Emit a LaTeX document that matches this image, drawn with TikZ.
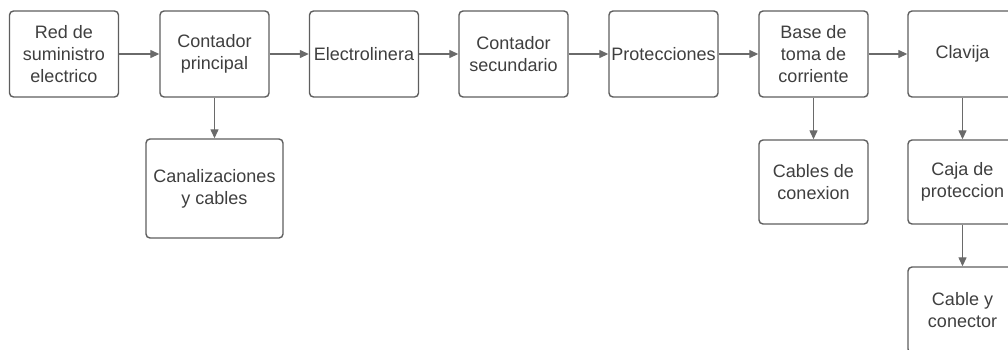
\documentclass[tikz,border=0pt]{standalone}
\usepackage{fontspec}
\setmainfont{Liberation Sans}
\usetikzlibrary{arrows.meta}
\definecolor{boxline}{HTML}{5E5E5E}
\definecolor{boxtext}{HTML}{3F3F3F}
\definecolor{arrline}{HTML}{6A6A6A}
\tikzset{
  blockbox/.style={draw=boxline,line width=1.4pt,rounded corners=4pt,fill=white,text=boxtext,align=center,inner sep=0pt,minimum width=109pt,minimum height=86pt,font=\fontsize{18}{22}\selectfont},
  blockboxwide/.style={blockbox,minimum width=137pt,minimum height=99pt},
  blockboxlow/.style={blockbox,minimum height=84pt},
  flowarr/.style={-{Triangle[length=9pt,width=8pt]},line width=1.3pt,draw=arrline}
}

\begin{document}
\begin{tikzpicture}[x=1pt,y=-1pt]
  \clip (0,0) rectangle (1008,349);
  % main chain
  \node[blockbox] (red) at (64,54) {Red de\\suministro\\electrico};
  \node[blockbox] (cprin) at (214.5,54) {Contador\\principal};
  \node[blockbox] (elec) at (364,54) {Electrolinera};
  \node[blockbox] (csec) at (513.5,54) {Contador\\secundario};
  \node[blockbox] (prot) at (663.5,54) {Protecciones};
  \node[blockbox] (base) at (813.5,54) {Base de\\toma de\\corriente};
  \node[blockbox] (clav) at (962.5,54) {Clavija};
  % branches
  \node[blockboxwide] (canal) at (214.5,188.5) {Canalizaciones\\y cables};
  \node[blockboxlow] (cabcon) at (813.5,182) {Cables de\\conexion};
  \node[blockboxlow] (caja) at (962.5,182) {Caja de\\proteccion};
  \node[blockbox] (cabley) at (962.5,310) {Cable y\\conector};

  \draw[flowarr] (red)--(cprin);
  \draw[flowarr] (cprin)--(elec);
  \draw[flowarr] (elec)--(csec);
  \draw[flowarr] (csec)--(prot);
  \draw[flowarr] (prot)--(base);
  \draw[flowarr] (base)--(clav);
  \draw[flowarr] (cprin)--(canal);
  \draw[flowarr] (base)--(cabcon);
  \draw[flowarr] (clav)--(caja);
  \draw[flowarr] (caja)--(cabley);
\end{tikzpicture}
\end{document}
